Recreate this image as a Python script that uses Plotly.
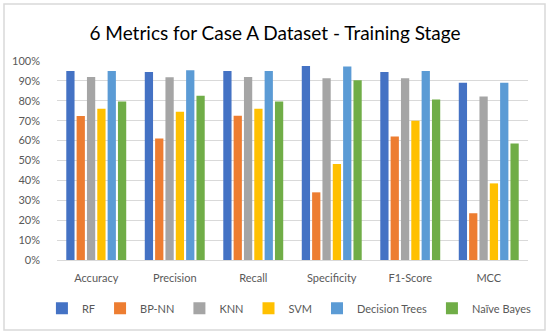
import plotly.graph_objects as go

categories = ["Accuracy", "Precision", "Recall", "Specificity", "F1-Score", "MCC"]
series_names = ["RF", "BP-NN", "KNN", "SVM", "Decision Trees", "Naïve Bayes"]
rf = [0.950, 0.945, 0.950, 0.975, 0.945, 0.891]
bpnn = [0.724, 0.610, 0.725, 0.340, 0.620, 0.235]
knn = [0.920, 0.918, 0.920, 0.913, 0.913, 0.822]
svm = [0.760, 0.745, 0.760, 0.482, 0.700, 0.385]
dt = [0.950, 0.953, 0.950, 0.972, 0.950, 0.891]
nb = [0.797, 0.826, 0.797, 0.903, 0.807, 0.586]
colors = ["#4472C4", "#ED7D31", "#A5A5A5", "#FFC000", "#5B9BD5", "#70AD47"]

values = [rf, bpnn, knn, svm, dt, nb]
font_family = "Lato, Carlito, Calibri, sans-serif"

fig = go.Figure()
for name, vals, col in zip(series_names, values, colors):
    fig.add_trace(go.Bar(name=name, x=categories, y=vals, marker_color=col,
                         marker_line_width=0))

fig.update_layout(
    width=550, height=334,
    margin=dict(l=57, r=22, t=61, b=74, autoexpand=False),
    paper_bgcolor="white", plot_bgcolor="white",
    barmode="group", bargap=0.21, bargroupgap=0.2,
    font=dict(family=font_family, size=11, color="#595959"),
    title=dict(text="6 Metrics for Case A Dataset - Training Stage",
               x=0.5, xanchor="center", y=0.9, yanchor="middle",
               font=dict(family=font_family, size=19, color="#000000")),
    legend=dict(orientation="h", x=-0.032, xanchor="left", y=-0.17, yanchor="top",
                font=dict(size=11, color="#595959"), itemwidth=30,
                tracegroupgap=0),
    showlegend=True,
)
fig.update_yaxes(range=[0, 1.0], tickformat=".0%", dtick=0.1,
                 showgrid=True, gridcolor="#D9D9D9", gridwidth=1,
                 zeroline=False, showline=False, ticklabelstandoff=16,
                 automargin=False,
                 tickfont=dict(size=11, color="#595959"))
fig.update_xaxes(showline=True, linecolor="#D9D9D9", linewidth=1,
                 showgrid=False, ticks="", ticklabelstandoff=8,
                 automargin=False,
                 tickfont=dict(size=11, color="#595959"))
fig.add_shape(type="rect", xref="paper", yref="paper",
              x0=(4 - 57) / 471, x1=(545 - 57) / 471,
              y0=(260 - 330) / 199, y1=(260 - 4) / 199,
              line=dict(color="#D9D9D9", width=1.5), fillcolor="rgba(0,0,0,0)",
              layer="below")

fig.write_html("out.html", config={"displayModeBar": False},
               post_script="document.body.style.margin='0';")
